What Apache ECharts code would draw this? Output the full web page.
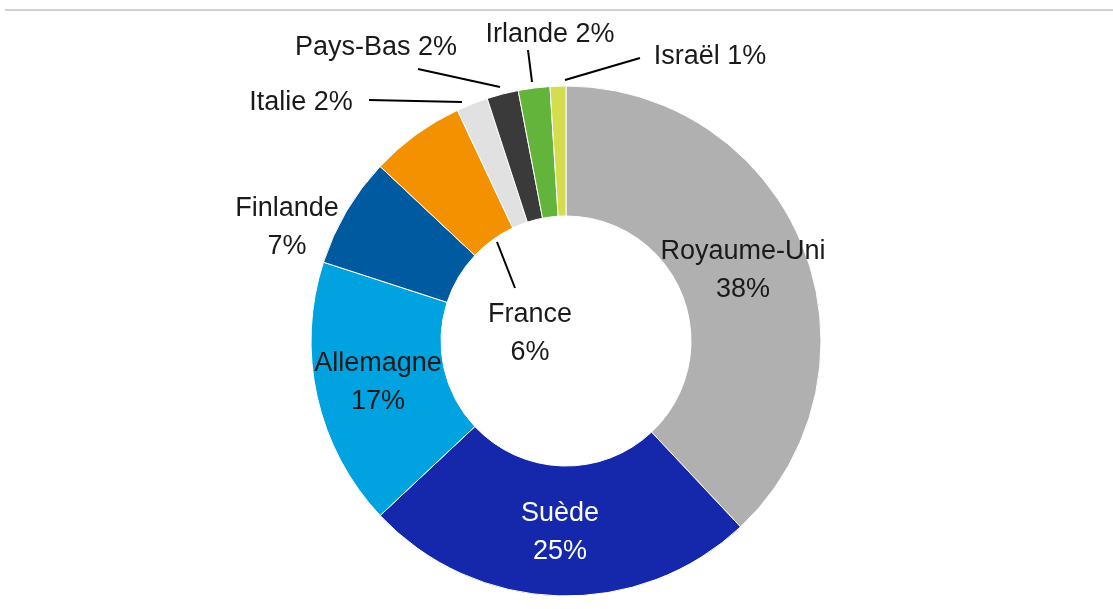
<!DOCTYPE html>
<html>
<head>
<meta charset="utf-8">
<script src="https://cdn.jsdelivr.net/npm/echarts@6/dist/echarts.min.js"></script>
<style>
  html, body { margin: 0; padding: 0; background: #fff; }
  #chart { width: 1113px; height: 609px; }
</style>
</head>
<body>
<div id="chart"></div>
<script>
// parts en %
var pays = ['Royaume-Uni', 'Suède', 'Allemagne', 'Finlande', 'France', 'Italie', 'Pays-Bas', 'Irlande', 'Israël'];
var parts = [38, 25, 17, 7, 6, 2, 2, 2, 1];
var couleurs = ['#b0b0b0', '#1528ab', '#00a2e0', '#005aa0', '#f39100', '#e1e1e1', '#3a3a3a', '#62b43a', '#d4dc50'];

// placement des etiquettes (centre du texte) et des traits de rappel
var etiquettes = [
  { x: 743, y: 271 },
  { x: 560, y: 533 },
  { x: 378, y: 383 },
  { x: 287, y: 228 },
  { x: 530, y: 334, line: [[497, 242], [515, 288]] },
  { x: 301, y: 103, line: [[462, 102], [369, 100]] },
  { x: 376, y: 48, line: [[500, 87], [418, 69]] },
  { x: 550, y: 35, line: [[532, 82], [528, 50]] },
  { x: 710, y: 57, line: [[565, 80], [640, 58]] }
];

var chartDom = document.getElementById('chart');
var myChart = echarts.init(chartDom);
var option;

var chartdata = [];
for (let i = 0; i < pays.length; i++) {
  let small = parts[i] <= 2;
  chartdata.push({
    name: pays[i],
    value: parts[i],
    itemStyle: { color: couleurs[i] },
    label: {
      position: i < 2 ? 'inside' : 'outside',
      color: i == 1 ? '#ffffff' : '#1a1a1a',
      formatter: small ? '{b} {c}%' : '{b}\n{c}%'
    },
    labelLine: { show: !!etiquettes[i].line }
  });
}

option = {
  animation: false,
  graphic: [
    {
      type: 'line',
      shape: { x1: 5, y1: 10, x2: 1113, y2: 10 },
      style: { stroke: '#c0c0c0', lineWidth: 1.5 }
    }
  ],
  series: [
    {
      type: 'pie',
      center: [566, 341],
      radius: [125, 255],
      startAngle: 90,
      clockwise: true,
      data: chartdata,
      itemStyle: { borderColor: '#ffffff', borderWidth: 1 },
      label: {
        fontFamily: 'Liberation Sans',
        fontSize: 27,
        lineHeight: 38
      },
      labelLine: {
        lineStyle: { color: '#000000', width: 2 }
      },
      labelLayout: function (params) {
        var e = etiquettes[params.dataIndex];
        var out = { x: e.x, y: e.y, align: 'center', verticalAlign: 'middle' };
        if (e.line) {
          out.labelLinePoints = [e.line[0], e.line[1], e.line[1]];
        }
        return out;
      }
    }
  ]
};

option && myChart.setOption(option);
</script>
</body>
</html>
